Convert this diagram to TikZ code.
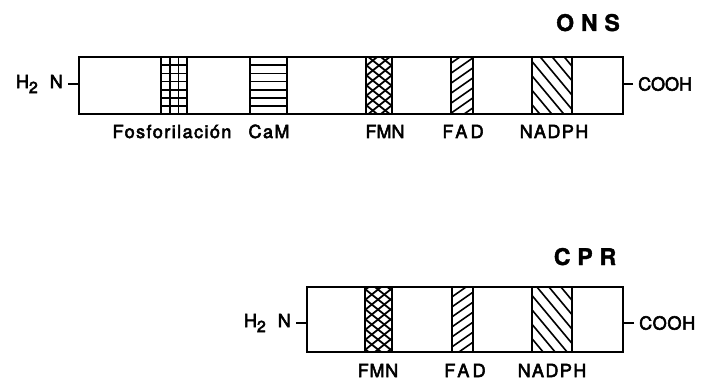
\documentclass[tikz,border=0pt]{standalone}
\usepackage{fontspec}
\setmainfont{TeX Gyre Heros}
\newfontfamily\lblfont[FakeBold=3]{TeX Gyre Heros}
\newfontfamily\ttlfont[LetterSpace=30,BoldFeatures={FakeBold=1.5}]{TeX Gyre Heros}
\newcommand{\amino}{H\raisebox{-5pt}{\fontsize{16}{16}\selectfont 2}\hspace{12pt}N}
\begin{document}
\begin{tikzpicture}[x=1pt,y=-1pt,
  bar/.style={draw, line width=2pt, inner sep=0pt, fill=white},
  seg/.style={draw, line width=2pt, inner sep=0pt},
  lbl/.style={inner sep=0pt, anchor=base, font=\lblfont\fontsize{18}{18}\selectfont},
  endlbl/.style={inner ysep=0pt, inner xsep=5pt, font=\lblfont\fontsize{18}{18}\selectfont},
  ttl/.style={inner sep=0pt, anchor=base, font=\ttlfont\bfseries\fontsize{23}{23}\selectfont},
  tick/.style={line width=1.8pt},
  gridfill/.style={path picture={
    \foreach \dx in {-4.3,4.3}
      \draw[line width=1.6pt] ([xshift=\dx pt]path picture bounding box.north) -- ([xshift=\dx pt]path picture bounding box.south);
    \foreach \k in {1,...,6}
      \draw[line width=1.6pt] ([yshift=-\k*8.2pt]path picture bounding box.north west) -- ([yshift=-\k*8.2pt]path picture bounding box.north east);
  }},
  hlinefill/.style={path picture={
    \foreach \k in {1,...,6}
      \draw[line width=1.6pt] ([yshift=-\k*8.2pt]path picture bounding box.north west) -- ([yshift=-\k*8.2pt]path picture bounding box.north east);
  }},
  crossfill/.style={path picture={
    \foreach \k in {-6,...,6}{
      \draw[line width=1.8pt] ([yshift=\k*10pt]path picture bounding box.center) ++(-30,24) -- ++(60,-48);
      \draw[line width=1.8pt] ([yshift=\k*10pt]path picture bounding box.center) ++(-30,-24) -- ++(60,48);
    }
  }},
  nefill/.style={path picture={
    \foreach \k in {-7,...,7}
      \draw[line width=1.6pt] ([yshift=\k*10pt]path picture bounding box.center) ++(-30,21) -- ++(60,-42);
  }},
  nwfill/.style={path picture={
    \foreach \k in {-6,...,6}
      \draw[line width=1.6pt] ([xshift=\k*12pt]path picture bounding box.center) ++(-30,-36) -- ++(60,72);
  }}
]
\useasboundingbox (0,0) rectangle (701,382);

% ---------- ONS ----------
\node[ttl] (onsT) at (588,31) {ONS};
\node[bar, minimum width=544pt, minimum height=57pt] (ons) at (351,85.5) {};
\node[seg, gridfill, minimum width=26pt, minimum height=57pt] (onsP) at (174,85.5) {};
\node[seg, hlinefill, minimum width=37pt, minimum height=57pt] (onsC) at (268.5,85.5) {};
\node[seg, crossfill, minimum width=26pt, minimum height=57pt] (onsF) at (379,85.5) {};
\node[seg, nefill, minimum width=22pt, minimum height=57pt] (onsA) at (462,85.5) {};
\node[seg, nwfill, minimum width=40pt, minimum height=57pt] (onsN) at (552,85.5) {};

\node[endlbl, anchor=east] (onsH) at (68,84) {\amino};
\node[endlbl, anchor=west] (onsO) at (633,84) {COOH};
\draw[tick] (onsH.east) -- (onsH.east -| ons.west);
\draw[tick] (onsO.west) -- (onsO.west -| ons.east);

\node[lbl] (lP) at (172,138) {\addfontfeatures{LetterSpace=8}Fosforilación};
\node[lbl] (lC) at (269,138) {\addfontfeatures{LetterSpace=8}CaM};
\node[lbl] (lF) at (385,138) {FMN};
\node[lbl] (lA) at (463,138) {\addfontfeatures{LetterSpace=18}FAD};
\node[lbl] (lN) at (554,138) {\addfontfeatures{LetterSpace=8}NADPH};

% ---------- CPR ----------
\node[ttl] (cprT) at (585,265) {CPR};
\node[bar, minimum width=316pt, minimum height=65pt] (cpr) at (465,319.5) {};
\node[seg, crossfill, minimum width=27pt, minimum height=65pt] (cprF) at (378,319.5) {};
\node[seg, nefill, minimum width=21pt, minimum height=65pt] (cprA) at (462.5,319.5) {};
\node[seg, nwfill, minimum width=40pt, minimum height=65pt] (cprN) at (552,319.5) {};

\node[endlbl, anchor=east] (cprH) at (296,323) {\amino};
\node[endlbl, anchor=west] (cprO) at (634,323) {\addfontfeatures{LetterSpace=4}COOH};
\draw[tick] (cprH.east) -- (cprH.east -| cpr.west);
\draw[tick] (cprO.west) -- (cprO.west -| cpr.east);

\node[lbl] (mF) at (378,377) {\addfontfeatures{LetterSpace=4}FMN};
\node[lbl] (mA) at (465,377) {\addfontfeatures{LetterSpace=18}FAD};
\node[lbl] (mN) at (552,377) {\addfontfeatures{LetterSpace=8}NADPH};
\end{tikzpicture}
\end{document}
